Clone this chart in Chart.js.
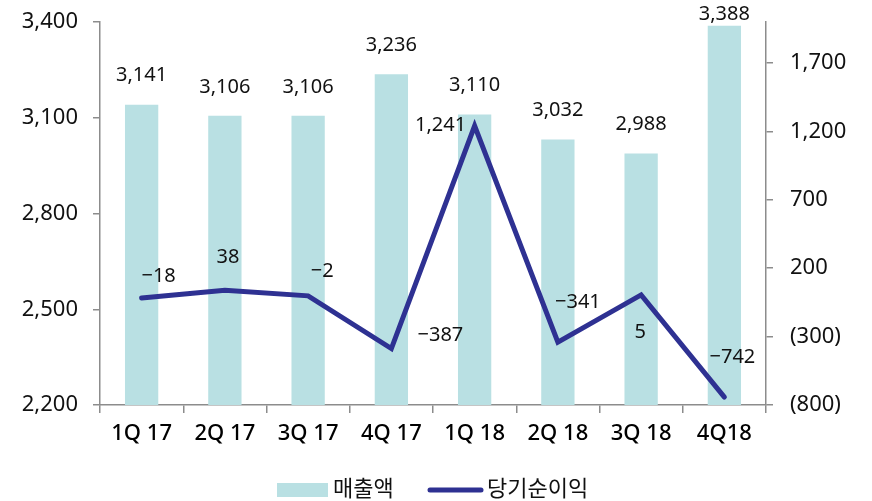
<!DOCTYPE html>
<html>
<head>
<meta charset="utf-8">
<script src="https://cdn.jsdelivr.net/npm/chart.js@4"></script>
<style>
html,body{margin:0;padding:0;background:#fff;}
canvas{display:block;}
</style>
</head>
<body>
<canvas id="c" width="872" height="501"></canvas>
<script>
const categories = ['1Q 17','2Q 17','3Q 17','4Q 17','1Q 18','2Q 18','3Q 18','4Q18'];
const salesLabel = '매출액';
const profitLabel = '당기순이익';
const sales = [3141, 3106, 3106, 3236, 3110, 3032, 2988, 3388];
const netProfit = [-18, 38, -2, -387, 1241, -341, 5, -742];
const leftTicks = [2200, 2500, 2800, 3100, 3400];
const rightTicks = [-800, -300, 200, 700, 1200, 1700];

// style settings
const BAR_COLOR = '#b9e0e3';
const LINE_COLOR = '#2e3192';
const AXIS_COLOR = '#8c8c8c';
const FONT = "'Noto Sans', 'Noto Sans CJK KR', sans-serif";
// label placement offsets for line labels (dx, dy) in pixels
const lineLabelOffsets = [[17,-22],[3,-33],[14,-25],[49,-13],[-34,-1],[20,-40],[-1,37],[8,-40]];

function fmt(v){ return Math.abs(v).toLocaleString('en-US'); }

const labelPlugin = {
  id: 'labels',
  afterDatasetsDraw(chart){
    const ctx = chart.ctx;
    ctx.save();
    ctx.fillStyle = '#111';
    ctx.textAlign = 'center';
    ctx.textBaseline = 'middle';
    ctx.font = "20px " + FONT;
    const barMeta = chart.getDatasetMeta(0);
    barMeta.data.forEach((el, i) => {
      const y = Math.max(el.y - 29, 14);
      ctx.fillText(sales[i].toLocaleString('en-US'), el.x, y);
    });
    const lineMeta = chart.getDatasetMeta(1);
    lineMeta.data.forEach((el, i) => {
      const v = netProfit[i];
      const t = (v < 0 ? '\u2212' : '') + fmt(v);
      const o = lineLabelOffsets[i];
      ctx.fillText(t, el.x + o[0], el.y + o[1]);
    });
    ctx.restore();
  },
  afterDraw(chart){
    const ctx = chart.ctx;
    ctx.save();
    const cy = 490;
    ctx.fillStyle = BAR_COLOR;
    ctx.fillRect(277, cy - 7, 51, 14);
    ctx.strokeStyle = LINE_COLOR;
    ctx.lineWidth = 5;
    ctx.lineCap = 'round';
    ctx.beginPath();
    ctx.moveTo(430, cy);
    ctx.lineTo(481, cy);
    ctx.stroke();
    ctx.fillStyle = '#111';
    ctx.font = "22px " + FONT;
    ctx.textAlign = 'left';
    ctx.textBaseline = 'middle';
    ctx.fillText(salesLabel, 333, cy);
    ctx.fillText(profitLabel, 487, cy);
    ctx.restore();
  }
};

function fixY(width){
  return function(s){ s.width = width; s.paddingTop = 0; s.paddingBottom = 0; };
}

new Chart(document.getElementById('c'), {
  type: 'bar',
  data: {
    labels: categories,
    datasets: [
      {
        type: 'bar',
        label: salesLabel,
        data: sales,
        backgroundColor: BAR_COLOR,
        yAxisID: 'y',
        barPercentage: 0.4,
        categoryPercentage: 1.0,
        order: 2
      },
      {
        type: 'line',
        label: profitLabel,
        data: netProfit,
        borderColor: LINE_COLOR,
        borderWidth: 5,
        pointRadius: 0,
        tension: 0,
        borderCapStyle: 'round',
        borderJoinStyle: 'miter',
        yAxisID: 'y1',
        order: 1
      }
    ]
  },
  options: {
    responsive: false,
    animation: false,
    layout: { padding: { left: 0, right: 0, top: 22, bottom: 46 } },
    plugins: { legend: { display: false }, tooltip: { enabled: false } },
    scales: {
      x: {
        offset: true,
        grid: { display: true, offset: true, drawOnChartArea: false, drawTicks: true, tickLength: 8, color: AXIS_COLOR, lineWidth: 1.5 },
        border: { display: true, color: AXIS_COLOR, width: 1.5 },
        ticks: { color: '#000', font: { family: FONT, size: 22, weight: '500' }, padding: 8, maxRotation: 0 },
        afterFit(s){ s.height = 50; s.paddingLeft = 0; s.paddingRight = 0; }
      },
      y: {
        position: 'left',
        min: 2200, max: 3400,
        afterBuildTicks(s){ s.ticks = leftTicks.map(v => ({value: v})); },
        grid: { display: true, drawOnChartArea: false, drawTicks: true, tickLength: 7, color: AXIS_COLOR, lineWidth: 1.5 },
        border: { display: true, color: AXIS_COLOR, width: 1.5 },
        ticks: { color: '#111', font: { family: FONT, size: 22 }, padding: 15, callback: v => Number(v).toLocaleString('en-US') },
        afterFit: fixY(100)
      },
      y1: {
        position: 'right',
        min: -800, max: 2000,
        afterBuildTicks(s){ s.ticks = rightTicks.map(v => ({value: v})); },
        grid: { display: true, drawOnChartArea: false, drawTicks: true, tickLength: 7, color: AXIS_COLOR, lineWidth: 1.5 },
        border: { display: true, color: AXIS_COLOR, width: 1.5 },
        ticks: { color: '#111', font: { family: FONT, size: 22 }, padding: 17,
          callback: v => v < 0 ? '(' + fmt(v) + ')' : fmt(v) },
        afterFit: fixY(106)
      }
    }
  },
  plugins: [labelPlugin]
});
</script>
</body>
</html>
